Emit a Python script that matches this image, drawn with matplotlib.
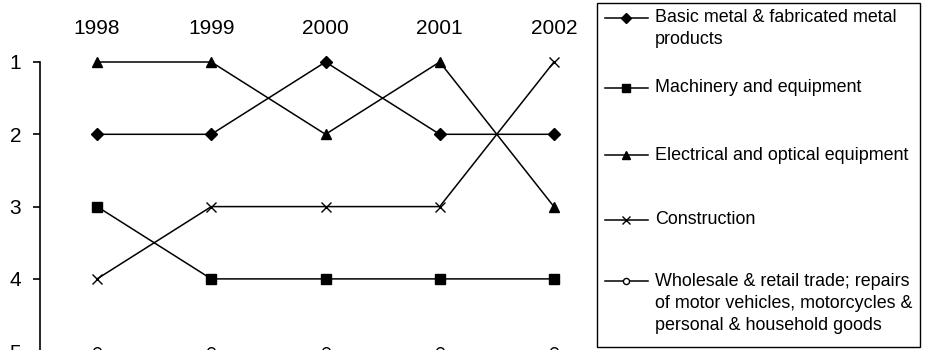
import matplotlib
matplotlib.use("Agg")
import matplotlib.pyplot as plt
from matplotlib.lines import Line2D
from matplotlib.patches import Rectangle

plt.rcParams["font.family"] = ["Liberation Sans", "DejaVu Sans"]

# ---------------------------------------------------------------------------
years = [1998, 1999, 2000, 2001, 2002]

basic_metal  = [2, 2, 1, 2, 2]
machinery    = [3, 4, 4, 4, 4]
electrical   = [1, 1, 2, 1, 3]
construction = [4, 3, 3, 3, 1]
wholesale    = [5, 5, 5, 5, 5]

labels = [
    ["Basic metal & fabricated metal", "products"],
    ["Machinery and equipment"],
    ["Electrical and optical equipment"],
    ["Construction"],
    ["Wholesale & retail trade; repairs", "of motor vehicles, motorcycles &",
     "personal & household goods"],
]
rank_ticks = [1, 2, 3, 4, 5]
# ---------------------------------------------------------------------------

W, H = 929, 350
fig = plt.figure(figsize=(W / 100, H / 100), dpi=100)

# axes placed in pixel terms; bottom runs off the figure like the original crop
ax_left, ax_right = 40, 611
ax_top, ax_bot = 62, 62 + 4.5 * 72.3
ax = fig.add_axes([ax_left / W, 1 - ax_bot / H,
                   (ax_right - ax_left) / W, (ax_bot - ax_top) / H])
ax.patch.set_alpha(0)

styles = [
    (basic_metal,  dict(marker="D", ms=6.0, mfc="black", mec="black")),
    (machinery,    dict(marker="s", ms=6.5, mfc="black", mec="black")),
    (electrical,   dict(marker="^", ms=7.0, mfc="black", mec="black")),
    (construction, dict(marker="x", ms=6.5, mec="black", mew=1.0)),
    (wholesale,    dict(marker="o", ms=5.5, mfc="white", mec="black", mew=1.0)),
]
for vals, st in styles:
    ax.plot(years, vals, color="black", lw=1.1, clip_on=False, **st)

ax.set_xlim(1997.5, 2002.5)
ax.set_ylim(5.5, 1)
ax.set_yticks(rank_ticks)
ax.set_xticks(years)
ax.xaxis.tick_top()
ax.tick_params(axis="x", length=0, pad=17, labelsize=15)
ax.tick_params(axis="y", length=5, width=1.2, pad=8.5, labelsize=15)
for s in ["top", "right", "bottom"]:
    ax.spines[s].set_visible(False)
ax.spines["left"].set_linewidth(1.2)

# legend drawn by hand to match the original spacing
fig.patches.append(Rectangle((597 / W, 1 - 347 / H), (920 - 597) / W, (347 - 3) / H,
                             transform=fig.transFigure, fill=False,
                             edgecolor="black", lw=1.0))
entry_y = [18, 88, 155, 220, 281]
line_step = 22
for (vals, st), lab, y in zip(styles, labels, entry_y):
    yf = 1 - y / H
    fig.add_artist(Line2D([605 / W, 648 / W], [yf, yf], transform=fig.transFigure,
                          color="black", lw=1.1))
    leg_st = dict(st)
    leg_st["ms"] = st["ms"] * 0.8
    fig.add_artist(Line2D([626.5 / W], [yf], transform=fig.transFigure,
                          color="black", lw=0, **leg_st))
    for i, txt in enumerate(lab):
        fig.text(655 / W, 1 - (y + i * line_step) / H, txt, fontsize=12.9,
                 va="center", ha="left")

fig.savefig("out.png", dpi=100)
